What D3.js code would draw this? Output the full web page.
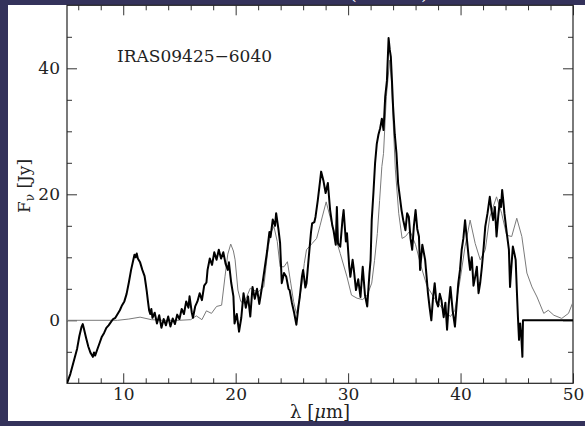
<!DOCTYPE html>
<html>
<head>
<meta charset="utf-8">
<script src="https://cdn.jsdelivr.net/npm/d3@7/dist/d3.min.js"></script>
<style>
  html, body { margin: 0; padding: 0; background: #34325b; }
  svg { display: block; }
  text { font-family: "DejaVu Serif", serif; }
</style>
</head>
<body>
<svg id="chart" width="585" height="426"></svg>
<script>
// observed spectrum (thick line): wavelength in micron, flux in Jy
const obsWave = [5.0, 5.3, 5.6, 5.9, 6.1, 6.3, 6.4, 6.5, 6.7, 6.9, 7.1, 7.3, 7.4, 7.5, 7.7, 7.9, 8.1, 8.3, 8.5, 8.7,
  8.9, 9.1, 9.3, 9.5, 9.7, 9.9, 10.1, 10.3, 10.5, 10.7, 10.9, 11.0, 11.1, 11.2, 11.3, 11.5, 11.7, 11.9, 12.0, 12.1,
  12.2, 12.3, 12.4, 12.5, 12.6, 12.8, 13.0, 13.2, 13.4, 13.6, 13.8, 14.0, 14.2, 14.4, 14.6, 14.8, 15.0, 15.2, 15.4, 15.6,
  15.8, 15.9, 16.1, 16.2, 16.4, 16.6, 16.8, 17.0, 17.2, 17.4, 17.5, 17.7, 17.9, 18.1, 18.3, 18.5, 18.7, 18.9, 19.1, 19.3,
  19.4, 19.6, 19.8, 19.9, 20.1, 20.3, 20.5, 20.7, 20.9, 21.1, 21.3, 21.5, 21.7, 21.9, 22.1, 22.2, 22.4, 22.6, 22.8, 23.0,
  23.1, 23.3, 23.5, 23.6, 23.8, 23.95, 24.1, 24.3, 24.5, 24.7, 24.8, 25.0, 25.2, 25.4, 25.6, 25.7, 25.9, 26.0, 26.2, 26.3,
  26.5, 26.7, 26.8, 27.0, 27.1, 27.3, 27.5, 27.6, 27.8, 28.0, 28.2, 28.4, 28.6, 28.7, 28.9, 29.0, 29.1, 29.3, 29.5, 29.6,
  29.8, 29.9, 30.1, 30.2, 30.4, 30.5, 30.7, 30.9, 31.1, 31.3, 31.5, 31.7, 31.9, 32.0, 32.1, 32.25, 32.4, 32.55, 32.7, 32.85,
  33.0, 33.15, 33.3, 33.45, 33.6, 33.7, 33.8, 33.9, 34.0, 34.15, 34.3, 34.45, 34.6, 34.75, 34.9, 35.1, 35.25, 35.4, 35.55, 35.7,
  35.85, 36.0, 36.15, 36.3, 36.4, 36.6, 36.85, 37.0, 37.1, 37.25, 37.4, 37.55, 37.7, 37.85, 38.0, 38.15, 38.3, 38.5, 38.65, 38.8,
  38.95, 39.1, 39.3, 39.5, 39.65, 39.8, 39.95, 40.1, 40.25, 40.4, 40.5, 40.6, 40.75, 40.85, 41.0, 41.15, 41.3, 41.45, 41.6, 41.75,
  41.9, 42.05, 42.2, 42.4, 42.6, 42.75, 42.9, 43.05, 43.2, 43.35, 43.5, 43.6, 43.7, 43.8, 43.9, 44.1, 44.3, 44.4, 44.5, 44.65,
  44.8, 44.9, 45.0, 45.1, 45.2, 45.3, 45.4, 45.5, 45.55, 50.0];
const obsFlux = [-10, -8.5, -6.5, -4.5, -2.5, -1.0, -0.6, -1.3, -2.8, -4.2, -5.2, -5.8, -5.1, -5.6, -4.6, -3.6, -2.6, -2.0, -1.2, -0.8,
  -0.3, 0.2, 0.4, 1.0, 1.6, 2.4, 3.0, 4.2, 6.0, 8.0, 9.6, 10.4, 10.0, 10.6, 9.8, 9.2, 8.0, 7.0, 5.8, 4.5,
  3.0, 1.6, 1.0, 1.8, 0.4, 1.2, -0.5, 0.8, -1.2, 0.2, -0.8, 0.6, -1.0, 0.3, -0.6, 0.9, 0.2, 1.8, 1.0, 3.0,
  2.0, 3.8, 1.2, 0.4, 2.2, 3.0, 4.3, 3.2, 5.5, 6.0, 8.0, 9.8, 8.8, 10.8, 9.6, 11.2, 9.8, 10.8, 9.0, 8.0,
  9.2, 6.0, 3.8, -0.5, 1.0, -1.8, 0.4, 4.3, 2.0, 3.8, 0.6, 5.3, 3.4, 5.0, 2.6, 3.7, 6.0, 8.5, 11.0, 14.0,
  13.2, 16.0, 15.0, 17.0, 14.5, 12.3, 5.9, 7.5, 6.9, 5.0, 4.8, 2.8, 1.2, -0.7, 2.4, 3.7, 7.0, 8.0, 5.2, 5.9,
  10.0, 14.0, 15.4, 15.6, 16.4, 19.0, 22.0, 23.6, 22.2, 20.2, 21.8, 17.5, 15.0, 14.3, 12.0, 18.0, 12.2, 11.7, 16.0, 17.5,
  12.5, 13.8, 8.5, 6.9, 9.6, 8.2, 4.8, 6.5, 3.7, 8.5, 4.0, 2.2, 7.5, 9.6, 15.9, 20.2, 25.0, 28.0, 29.5, 30.5,
  32.0, 30.2, 35.5, 38.0, 44.8, 43.0, 41.8, 38.0, 33.9, 29.5, 26.5, 21.7, 19.6, 17.5, 15.9, 14.3, 17.0, 16.4, 13.0, 11.2,
  15.0, 17.5, 14.5, 13.3, 8.0, 12.0, 9.6, 6.5, 4.3, 2.0, 0.0, 3.5, 5.9, 3.0, 2.2, 4.2, 3.2, 0.5, 2.8, -1.5,
  2.5, 5.3, 1.5, -1.0, 2.5, 5.9, 8.0, 11.2, 13.0, 15.9, 14.0, 12.2, 9.5, 8.0, 10.0, 5.5, 6.9, 8.5, 4.3, 6.0,
  8.5, 11.5, 14.9, 17.0, 19.6, 17.5, 15.9, 18.0, 13.3, 16.5, 19.1, 18.0, 20.7, 19.0, 17.0, 14.0, 11.2, 5.3, 8.0, 11.7,
  10.5, 9.6, 5.0, 0.6, -3.1, -0.5, -2.5, -5.8, 0, 0];

// model spectrum (thin grey line)
const modelWave = [5.0, 9.5, 10.5, 11.5, 12.5, 13.5, 15.0, 16.0, 16.5, 17.0, 17.4, 17.85, 18.3, 18.75, 19.05, 19.3, 19.56, 19.8, 19.95, 20.2,
  20.45, 20.7, 21.0, 21.3, 21.6, 22.0, 22.5, 22.7, 22.9, 23.15, 23.4, 23.7, 23.95, 24.3, 24.6, 24.9, 25.15, 25.4, 25.65, 25.9,
  26.1, 26.3, 26.8, 27.2, 27.5, 27.7, 28.05, 28.4, 28.85, 29.3, 29.9, 30.3, 30.8, 31.3, 31.7, 32.1, 32.35, 32.6, 32.8, 33.0,
  33.15, 33.4, 33.7, 33.85, 34.0, 34.2, 34.5, 34.8, 35.1, 35.5, 36.0, 36.5, 37.0, 37.6, 38.5, 39.1, 39.5, 40.0, 40.4, 40.85,
  41.3, 41.75, 42.2, 42.6, 43.2, 43.65, 44.1, 44.55, 45.0, 45.45, 45.9, 46.35, 46.8, 47.4, 47.8, 48.3, 49.0, 49.6, 50.0];
const modelFlux = [0, 0, 0.2, 0.5, 0.1, 0, 0, 0.1, 0.7, 0.1, 1.5, 1.1, 2.2, 2.4, 6.9, 10.5, 12.1, 11.0, 9.6, 4.8,
  3.0, 2.7, 3.8, 5.1, 4.8, 4.5, 5.3, 8.5, 11.7, 14.0, 14.9, 12.5, 8.5, 8.5, 9.3, 5.9, 3.0, 1.1, 3.0, 5.9,
  9.0, 11.2, 12.2, 13.0, 15.0, 16.4, 18.8, 16.4, 13.3, 10.6, 6.9, 4.0, 3.5, 3.3, 4.0, 5.9, 9.5, 13.8, 19.0, 24.4,
  26.5, 35.5, 41.3, 38.0, 31.8, 24.0, 17.0, 13.0, 13.3, 14.2, 12.0, 8.5, 5.5, 3.7, 1.6, 0.6, 1.6, 6.9, 11.7, 15.9,
  12.2, 9.6, 11.2, 16.4, 19.6, 17.0, 13.5, 13.3, 16.2, 13.3, 7.5, 5.3, 3.7, 1.1, 1.6, 0.8, 0.3, 1.1, 2.9];

const xMajor = [10, 20, 30, 40, 50];
const xMinor = [6, 8, 12, 14, 16, 18, 22, 24, 26, 28, 32, 34, 36, 38, 42, 44, 46, 48];
const yMajor = [0, 20, 40];
const yMinor = [-5, 5, 10, 15, 25, 30, 35, 45];

const svg = d3.select('#chart');

// white slide panel
svg.append('rect')
  .attr('x', 8).attr('y', 5)
  .attr('width', 577).attr('height', 416)
  .attr('fill', '#ffffff');

// bits of the slide title peeking in at the top
svg.append('text').attr('x', 349).attr('y', -1).attr('font-size', 20).attr('fill', '#fff').text('(');
svg.append('text').attr('x', 421).attr('y', -1).attr('font-size', 20).attr('fill', '#fff').text(')');

const plotLeft = 67, plotRight = 573, plotTop = 5.3, plotBottom = 383.3;
const x = d3.scaleLinear().domain([5, 50]).range([plotLeft, plotRight]);
const y = d3.scaleLinear().domain([-10, 50]).range([plotBottom, plotTop]);

const plot = svg.append('g');

plot.append('defs').append('clipPath').attr('id', 'clip')
  .append('rect').attr('x', plotLeft).attr('y', plotTop)
  .attr('width', plotRight - plotLeft).attr('height', plotBottom - plotTop);

// axes, ticks point inward on all four sides
function axisGroup(axis, transform) {
  const g = plot.append('g').attr('transform', transform).call(axis);
  g.select('.domain').remove();
  g.selectAll('line').attr('stroke', '#333').attr('stroke-width', 1);
  g.selectAll('text').attr('fill', '#222').attr('font-size', 17).attr('font-family', '"DejaVu Serif", serif');
  return g;
}

axisGroup(d3.axisBottom(x).tickValues(xMajor).tickSize(-10).tickPadding(5).tickFormat(d3.format('d')), `translate(0,${plotBottom})`);
axisGroup(d3.axisBottom(x).tickValues(xMinor).tickSize(-5).tickFormat(''), `translate(0,${plotBottom})`);
axisGroup(d3.axisTop(x).tickValues(xMajor).tickSize(-10).tickFormat(''), `translate(0,${plotTop})`);
axisGroup(d3.axisTop(x).tickValues(xMinor).tickSize(-5).tickFormat(''), `translate(0,${plotTop})`);

axisGroup(d3.axisLeft(y).tickValues(yMajor).tickSize(-10).tickPadding(7).tickFormat(d3.format('d')), `translate(${plotLeft},0)`);
axisGroup(d3.axisLeft(y).tickValues(yMinor).tickSize(-5).tickFormat(''), `translate(${plotLeft},0)`);
axisGroup(d3.axisRight(y).tickValues(yMajor).tickSize(-10).tickFormat(''), `translate(${plotRight},0)`);
axisGroup(d3.axisRight(y).tickValues(yMinor).tickSize(-5).tickFormat(''), `translate(${plotRight},0)`);

// frame
plot.append('rect')
  .attr('x', plotLeft).attr('y', plotTop)
  .attr('width', plotRight - plotLeft).attr('height', plotBottom - plotTop)
  .attr('fill', 'none').attr('stroke', '#222').attr('stroke-width', 1.2);

const line = d3.line().x(d => x(d[0])).y(d => y(d[1]));

plot.append('path')
  .datum(d3.zip(modelWave, modelFlux))
  .attr('clip-path', 'url(#clip)')
  .attr('d', line)
  .attr('fill', 'none')
  .attr('stroke', '#7a7a7a')
  .attr('stroke-width', 1);

plot.append('path')
  .datum(d3.zip(obsWave, obsFlux))
  .attr('clip-path', 'url(#clip)')
  .attr('d', line)
  .attr('fill', 'none')
  .attr('stroke', '#000')
  .attr('stroke-width', 2)
  .attr('stroke-linejoin', 'round');

// labels
plot.append('text')
  .attr('x', 117).attr('y', 62)
  .attr('font-size', 17)
  .attr('fill', '#222')
  .text('IRAS09425\u22126040');

const xt = plot.append('text')
  .attr('x', (plotLeft + plotRight) / 2).attr('y', 418)
  .attr('text-anchor', 'middle')
  .attr('font-size', 18)
  .attr('fill', '#222');
xt.append('tspan').text('\u03bb [');
xt.append('tspan').attr('font-style', 'italic').text('\u03bc');
xt.append('tspan').text('m]');

const yt = plot.append('text')
  .attr('transform', 'translate(30,186) rotate(-90)')
  .attr('text-anchor', 'middle')
  .attr('font-size', 17)
  .attr('fill', '#222');
yt.append('tspan').text('F');
yt.append('tspan').attr('font-size', 12).attr('dy', 4).text('\u03bd');
yt.append('tspan').attr('dy', -4).text(' [Jy]');
</script>
</body>
</html>
